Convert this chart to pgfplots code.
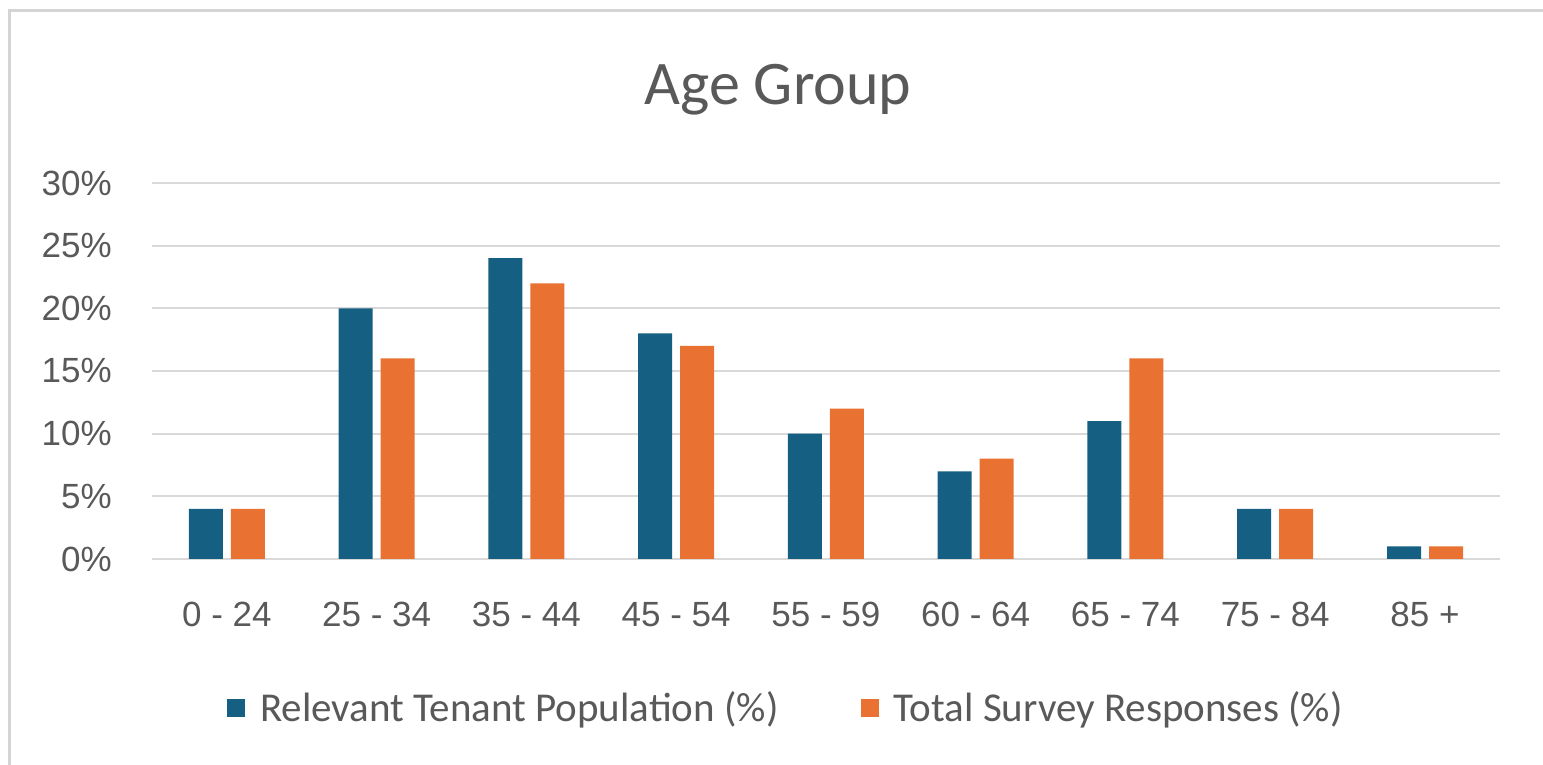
\documentclass[border=0pt]{standalone}
\usepackage{pgfplots}
\pgfplotsset{compat=1.18}
\usepackage{fontspec}
\setmainfont{Liberation Sans}
\newfontfamily\carlito{Carlito}
\definecolor{cblue}{HTML}{156082}
\definecolor{corange}{HTML}{E97132}
\definecolor{tgray}{HTML}{595959}
\definecolor{ggray}{HTML}{D9D9D9}
\definecolor{bgray}{HTML}{D4D4D4}
\begin{document}
\begin{tikzpicture}
\useasboundingbox (0,0) rectangle (1543pt,765pt);
\fill[white] (0,0) rectangle (1543pt,765pt);
\draw[bgray, line width=3pt] (9.5pt,0) -- (9.5pt,754pt) -- (1543pt,754pt);
\node[anchor=base, text=tgray, font={\carlito\fontsize{62}{70}\selectfont}, inner sep=0pt] at (778pt,660pt) {Age Group};
\begin{axis}[
  at={(152pt,206pt)}, anchor=south west,
  scale only axis, width=1348pt, height=376pt,
  xmin=-0.5, xmax=8.5, ymin=0, ymax=30,
  ybar=8pt, bar width=34pt,
  xtick={0,...,8},
  xticklabels={0 - 24, 25 - 34, 35 - 44, 45 - 54, 55 - 59, 60 - 64, 65 - 74, 75 - 84, 85 +},
  ytick={0,5,...,30},
  yticklabel={\pgfmathprintnumber{\tick}\%},
  /pgf/number format/assume math mode=true,
  ymajorgrids, major grid style={ggray, line width=2pt},
  axis line style={draw=none},
  major tick length=0pt, tick style={draw=none},
  ticklabel style={font={\fontsize{35}{42}\selectfont}, text=tgray, inner sep=0pt},
  xticklabel style={anchor=north, yshift=-43pt},
  yticklabel style={anchor=east, xshift=-40pt},
  legend columns=2,
  legend style={at={(0.4703,-0.395)}, anchor=center, draw=none, fill=none,
    font={\carlito\fontsize{41}{48}\selectfont}, text=tgray,
    column sep=13pt, /tikz/every even column/.append style={column sep=80pt}},
  legend image code/.code={\fill[#1] (0pt,-9pt) rectangle (18pt,9pt);},
]
\addplot[fill=cblue, draw=none] coordinates {(0,4) (1,20) (2,24) (3,18) (4,10) (5,7) (6,11) (7,4) (8,1)};
\addplot[fill=corange, draw=none] coordinates {(0,4) (1,16) (2,22) (3,17) (4,12) (5,8) (6,16) (7,4) (8,1)};
\legend{Relevant Tenant Population (\%), Total Survey Responses (\%)}
\end{axis}
\end{tikzpicture}
\end{document}
